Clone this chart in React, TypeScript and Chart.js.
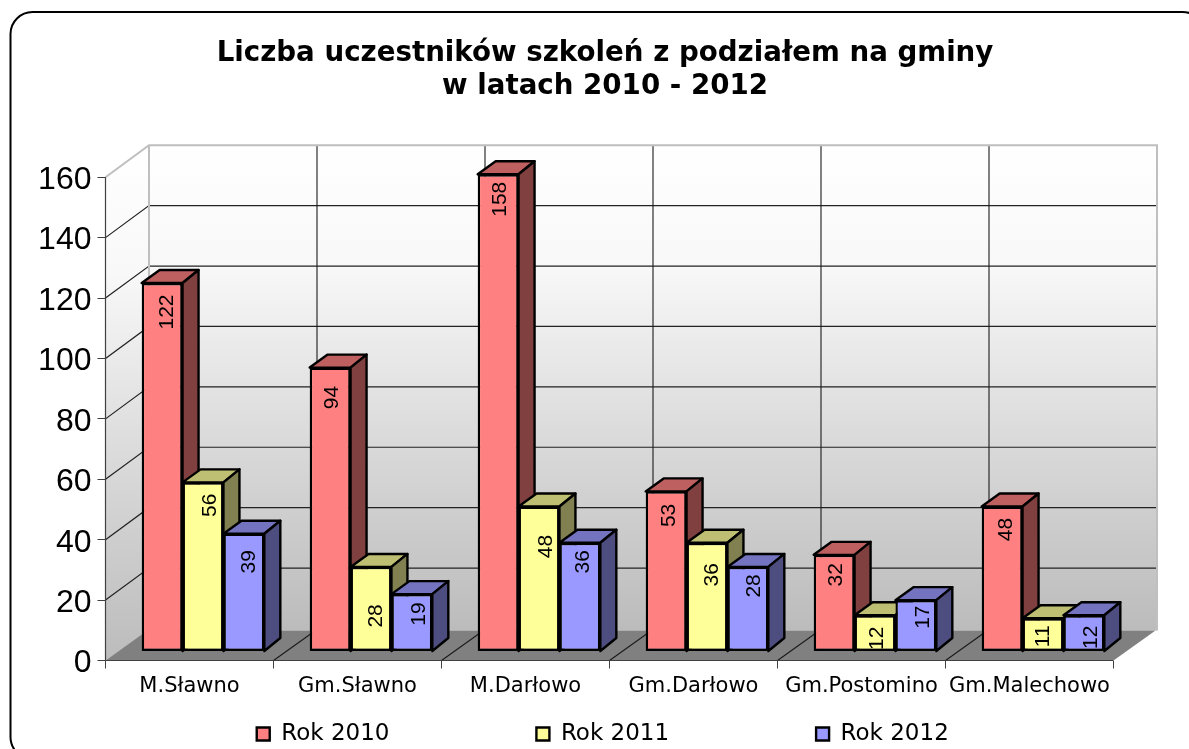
import React, { useEffect, useRef } from "react";
import { Chart, registerables } from "chart.js";

Chart.register(...registerables);

const categories = ["M.Sławno", "Gm.Sławno", "M.Darłowo", "Gm.Darłowo", "Gm.Postomino", "Gm.Malechowo"];
const rok2010 = [122, 94, 158, 53, 32, 48];
const rok2011 = [56, 28, 48, 36, 12, 11];
const rok2012 = [39, 19, 36, 28, 17, 12];
const yTicks = [0, 20, 40, 60, 80, 100, 120, 140, 160];
const titleLines = ["Liczba uczestników szkoleń z podziałem na gminy", "w latach 2010 - 2012"];

// Where each rotated value label sits below the top of its bar.
const labelDrop2010 = [29, 30, 25, 24, 20, 23];
const labelDrop2011 = [23, 49, 40, 32, 23, 18];
const labelDrop2012 = [28, 20, 19, 19, 17, 22];
// How far each label sits to the right of its bar's centre.
const labelSide2010 = [5, 2, 2, 3, 2, 4];
const labelSide2011 = [7, 5, 7, 5, 2, 0];
const labelSide2012 = [5, 7, 3, 6, 7, 7];

const fills = ["#FF8080", "#FFFF99", "#9999FF"];
const tops = ["#BF6060", "#BFBF73", "#7373BF"];
const sides = ["#804040", "#808050", "#4D4D80"];

// 3D projection, in pixels
const WALL_DX = 43.5;
const WALL_DY = 32;
const FLOOR_DX = 42;
const FLOOR_DY = 30;
const BAR_DX = 13.5;
const BAR_DY = -9;
const DEPTH_X = 16;
const DEPTH_Y = 13;

const poly = (ctx: CanvasRenderingContext2D, pts: number[][], fill?: any, stroke?: string, lw = 1) => {
  ctx.beginPath();
  pts.forEach(([x, y], i) => (i ? ctx.lineTo(x, y) : ctx.moveTo(x, y)));
  ctx.closePath();
  if (fill) {
    ctx.fillStyle = fill;
    ctx.fill();
  }
  if (stroke) {
    ctx.strokeStyle = stroke;
    ctx.lineWidth = lw;
    ctx.lineJoin = "round";
    ctx.stroke();
  }
};

const line = (ctx: CanvasRenderingContext2D, pts: number[][], color: string, lw: number) => {
  ctx.beginPath();
  pts.forEach(([x, y], i) => (i ? ctx.lineTo(x, y) : ctx.moveTo(x, y)));
  ctx.strokeStyle = color;
  ctx.lineWidth = lw;
  ctx.stroke();
};

const wallGradient = (ctx: CanvasRenderingContext2D, y0: number, y1: number) => {
  const g = ctx.createLinearGradient(0, y0, 0, y1);
  g.addColorStop(0, "#FFFFFF");
  g.addColorStop(0.25, "#F8F8F8");
  g.addColorStop(0.5, "#E3E3E3");
  g.addColorStop(0.75, "#CFCFCF");
  g.addColorStop(1, "#BCBCBC");
  return g;
};

const framePlugin = {
  id: "frame",
  beforeDraw(chart: any) {
    const ctx = chart.ctx as CanvasRenderingContext2D;
    ctx.save();
    ctx.fillStyle = "#fff";
    ctx.fillRect(0, 0, chart.width, chart.height);
    ctx.beginPath();
    ctx.roundRect(10.5, 12, 1194, 747, 22);
    ctx.strokeStyle = "#000";
    ctx.lineWidth = 2;
    ctx.stroke();
    ctx.restore();
  },
};

const wallsPlugin = {
  id: "walls",
  beforeDatasetsDraw(chart: any) {
    const ctx = chart.ctx as CanvasRenderingContext2D;
    const { left, right, top, bottom } = chart.chartArea;
    const ys = chart.scales.y;
    const step = (right - left) / categories.length;
    ctx.save();

    poly(ctx, [[left + WALL_DX, top - WALL_DY], [right + WALL_DX, top - WALL_DY], [right + WALL_DX, bottom - FLOOR_DY], [left + WALL_DX, bottom - FLOOR_DY]], wallGradient(ctx, top - WALL_DY, bottom - WALL_DY));
    poly(ctx, [[left, top], [left + WALL_DX, top - WALL_DY], [left + WALL_DX, bottom - FLOOR_DY], [left, bottom]], wallGradient(ctx, top - WALL_DY, bottom));

    poly(ctx, [[left, bottom], [left + FLOOR_DX, bottom - FLOOR_DY], [right + FLOOR_DX, bottom - FLOOR_DY], [right, bottom]], "#808080");

    yTicks.forEach((v) => {
      if (v === 0 || v === 160) return;
      const y = ys.getPixelForValue(v);
      line(ctx, [[left, y], [left + WALL_DX, y - WALL_DY], [right + WALL_DX, y - WALL_DY]], "#222222", 1.2);
    });
    for (let i = 1; i < categories.length; i++) {
      const x = left + step * i;
      line(ctx, [[x, bottom], [x + FLOOR_DX, bottom - FLOOR_DY]], "#1a1a1a", 1.1);
      line(ctx, [[x + WALL_DX, bottom - FLOOR_DY], [x + WALL_DX, top - WALL_DY]], "#1a1a1a", 1.1);
    }
    line(ctx, [[left, top], [left + WALL_DX, top - WALL_DY], [right + WALL_DX, top - WALL_DY], [right + WALL_DX, bottom - FLOOR_DY]], "#BFBFBF", 2);
    line(ctx, [[left + WALL_DX, top - WALL_DY], [left + WALL_DX, bottom - FLOOR_DY]], "#BFBFBF", 2);
    line(ctx, [[left, top], [left, bottom]], "#404040", 1.2);
    line(ctx, [[left, bottom], [right, bottom]], "#404040", 1.2);
    ctx.restore();
  },
};

const barsPlugin = {
  id: "bars3d",
  beforeDatasetsDraw(chart: any) {
    const ctx = chart.ctx as CanvasRenderingContext2D;
    const drops = [labelDrop2010, labelDrop2011, labelDrop2012];
    const shifts = [labelSide2010, labelSide2011, labelSide2012];
    ctx.save();
    ctx.translate(BAR_DX, BAR_DY);
    chart.data.datasets.forEach((ds: any, di: number) => {
      const meta = chart.getDatasetMeta(di);
      meta.data.forEach((el: any) => {
        const l = el.x - el.width / 2;
        const r = el.x + el.width / 2;
        poly(ctx, [[l, el.y], [l + DEPTH_X + 2, el.y - DEPTH_Y], [r + DEPTH_X, el.y - DEPTH_Y], [r, el.y]], tops[di], "#000", 2.4);
        poly(ctx, [[r, el.y], [r + DEPTH_X, el.y - DEPTH_Y], [r + DEPTH_X, el.base - DEPTH_Y], [r, el.base]], sides[di], "#000", 2.4);
      });
      meta.controller.draw();
      meta.data.forEach((el: any, i: number) => {
        ctx.save();
        ctx.translate(el.x + shifts[di][i], el.y + drops[di][i]);
        ctx.rotate(-Math.PI / 2);
        ctx.fillStyle = "#000";
        ctx.font = '21px "Liberation Sans"';
        ctx.textAlign = "center";
        ctx.textBaseline = "middle";
        ctx.fillText(String(ds.data[i]), 0, 0);
        ctx.restore();
      });
    });
    ctx.restore();
    return false;
  },
};

const placementPlugin = {
  id: "placement",
  beforeLayout(chart: any) {
    const legend = chart.legend;
    if (legend && !legend.__wrapped) {
      const fit = legend.fit.bind(legend);
      legend.fit = () => {
        fit();
        legend.height = 49;
      };
      legend.__wrapped = true;
    }
  },
  afterLayout(chart: any) {
    const legend = chart.legend;
    const pad = legend.options.labels.padding;
    legend.top = 734 - pad - 11.5;
    legend.bottom = 749;
    legend.left += 46;
    legend.right += 46;
    chart.titleBlock.left += 48.25;
    chart.titleBlock.right += 48.25;
  },
};

export default function App() {
  const ref = useRef<HTMLCanvasElement>(null);
  useEffect(() => {
    document.body.style.margin = "0";
    const mk = (label: string, data: number[], i: number) => ({
      label,
      data,
      backgroundColor: fills[i],
      borderColor: "#000",
      borderWidth: 2.4,
      borderSkipped: false,
      categoryPercentage: 0.73,
      barPercentage: 1,
    });
    const chart = new Chart(ref.current!, {
      type: "bar",
      data: {
        labels: categories,
        datasets: [mk("Rok 2010", rok2010, 0), mk("Rok 2011", rok2011, 1), mk("Rok 2012", rok2012, 2)],
      },
      options: {
        responsive: false,
        animation: false,
        layout: { padding: { left: 0, right: 75.5, top: 0, bottom: 0 } },
        plugins: {
          tooltip: { enabled: false },
          title: {
            display: true,
            text: titleLines,
            color: "#000",
            font: { family: '"DejaVu Sans"', size: 27.7, weight: "bold", lineHeight: 1.19 },
            padding: { top: 37.5, bottom: 73.8 },
          },
          legend: {
            display: true,
            position: "bottom",
            labels: {
              color: "#000",
              font: { family: '"DejaVu Sans"', size: 23 },
              boxWidth: 13,
              boxHeight: 13,
              padding: 147,
            },
          },
        },
        scales: {
          x: {
            grid: { drawOnChartArea: false, drawTicks: true, tickLength: 8, color: "#404040" },
            border: { display: false },
            ticks: {
              color: "#000",
              font: { family: '"DejaVu Sans"', size: 21 },
              padding: 5,
              maxRotation: 0,
              autoSkip: false,
            },
            afterFit: (s: any) => {
              s.height = 39.5;
            },
          },
          y: {
            min: 0,
            max: 160,
            afterBuildTicks: (s: any) => {
              s.ticks = yTicks.map((value) => ({ value }));
            },
            grid: { drawOnChartArea: false, drawTicks: true, tickLength: 8, color: "#404040" },
            border: { display: false },
            ticks: {
              color: "#000",
              font: { family: '"Liberation Sans"', size: 32 },
              padding: 6,
              labelOffset: 3,
            },
            afterFit: (s: any) => {
              s.width = 105.5;
            },
          },
        },
      },
      plugins: [framePlugin, wallsPlugin, barsPlugin, placementPlugin],
    } as any);
    return () => chart.destroy();
  }, []);
  return <canvas ref={ref} width={1189} height={749} style={{ display: "block" }} />;
}
